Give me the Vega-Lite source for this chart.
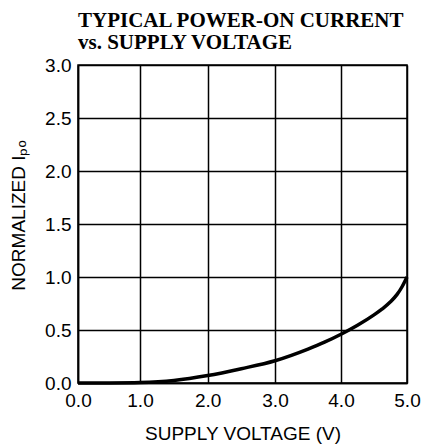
{
  "$schema": "https://vega.github.io/schema/vega-lite/v6.json",
  "width": 329,
  "height": 318,
  "autosize": "none",
  "padding": {"left": 78, "top": 65, "right": 16, "bottom": 62},
  "background": "white",
  "title": {
    "text": ["TYPICAL POWER-ON CURRENT", "vs. SUPPLY VOLTAGE"],
    "font": "Liberation Serif",
    "fontSize": 21,
    "fontWeight": "bold",
    "anchor": "start",
    "frame": "group",
    "color": "black",
    "lineHeight": 22,
    "offset": 3
  },
  "data": {
    "values": [
      {"voltage": 0.0, "ipo": 0.0},
      {"voltage": 0.5, "ipo": 0.001},
      {"voltage": 1.0, "ipo": 0.005},
      {"voltage": 1.5, "ipo": 0.024},
      {"voltage": 2.0, "ipo": 0.07},
      {"voltage": 2.5, "ipo": 0.135},
      {"voltage": 3.0, "ipo": 0.21},
      {"voltage": 3.5, "ipo": 0.32},
      {"voltage": 3.75, "ipo": 0.385},
      {"voltage": 4.0, "ipo": 0.46},
      {"voltage": 4.25, "ipo": 0.545},
      {"voltage": 4.5, "ipo": 0.643},
      {"voltage": 4.625, "ipo": 0.699},
      {"voltage": 4.75, "ipo": 0.766},
      {"voltage": 4.85, "ipo": 0.836},
      {"voltage": 4.925, "ipo": 0.908},
      {"voltage": 5.0, "ipo": 1.0}
    ]
  },
  "mark": {"type": "line", "interpolate": "monotone", "color": "black", "strokeWidth": 3.5, "clip": false},
  "encoding": {
    "x": {
      "field": "voltage",
      "type": "quantitative",
      "scale": {"domain": [0, 1, 2, 3, 4, 5], "range": [0, 62, 129.7, 197, 263, 329], "nice": false, "zero": false},
      "axis": {"values": [0, 1, 2, 3, 4, 5], "format": ".1f", "title": "SUPPLY VOLTAGE (V)", "labelPadding": 8, "titlePadding": 14}
    },
    "y": {
      "field": "ipo",
      "type": "quantitative",
      "scale": {"domain": [0, 3], "nice": false},
      "axis": {"values": [0, 0.5, 1, 1.5, 2, 2.5, 3], "format": ".1f", "title": "NORMALIZED Iₚₒ", "labelPadding": 7, "titlePadding": 16, "titleY": 150}
    }
  },
  "config": {
    "view": {"stroke": "black", "strokeWidth": 1.5},
    "axis": {
      "labelFont": "Liberation Sans",
      "labelFontSize": 19,
      "labelColor": "black",
      "titleFont": "Liberation Sans",
      "titleFontSize": 19,
      "titleFontWeight": "normal",
      "titleColor": "black",
      "ticks": false,
      "domainColor": "black",
      "domainWidth": 1.5,
      "grid": true,
      "gridColor": "black",
      "gridWidth": 1.5,
      "gridOpacity": 1,
      "labelOverlap": false,
      "labelFlush": false
    }
  }
}
